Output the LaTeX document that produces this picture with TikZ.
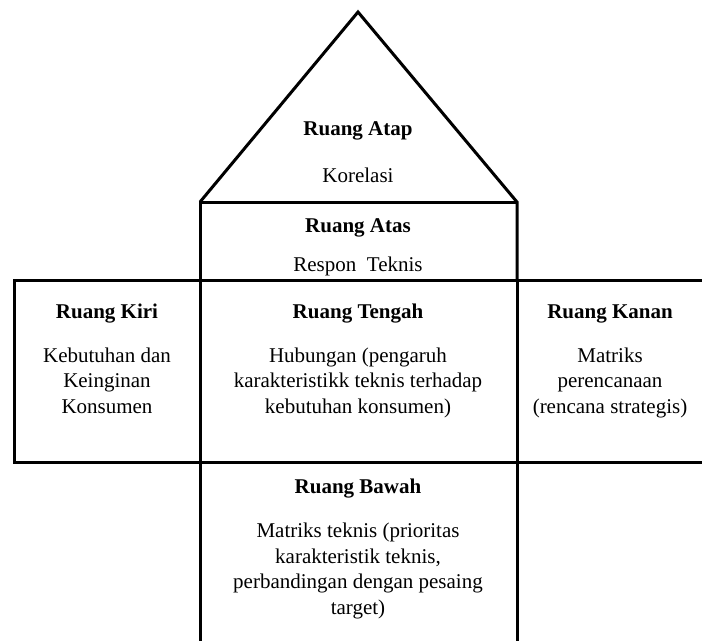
\documentclass[tikz,border=0pt]{standalone}
\usepackage{fontspec}
\setmainfont{Liberation Serif}
\begin{document}
\begin{tikzpicture}[x=1pt,y=-1pt,
  frame/.style={line width=3pt,line join=miter,black},
  head/.style={anchor=base,inner sep=0pt,font=\fontsize{21}{25}\selectfont\bfseries},
  body/.style={anchor=base,inner sep=0pt,align=center,font=\fontsize{21}{25.5}\selectfont}]
\useasboundingbox (0,0) rectangle (702,641);
% coordinates
\coordinate (apex) at (358,12);
\coordinate (rl) at (200,202);
\coordinate (rr) at (517,202);
\coordinate (ml) at (200,280);
\coordinate (mr) at (517,280);
\coordinate (bl) at (200,462);
\coordinate (br) at (517,462);
% roof and top box
\draw[frame] (rl) -- (apex) -- (rr) -- (mr);
\draw[frame] (rr) -- (rl) -- (ml);
% middle row
\draw[frame] (703,280) -- (14,280) -- (14,462) -- (703,462);
\draw[frame] (ml) -- (200,641);
\draw[frame] (mr) -- (517,641);
% texts (multi-line nodes: base = baseline of last line)
\node[head] (atap) at (358,135) {Ruang Atap};
\node[body] (korelasi) at (358,182) {Korelasi};
\node[head] (atas) at (358,232) {Ruang Atas};
\node[body] (respon) at (358,271) {Respon\ \ Teknis};
\node[head] (kiri) at (107,318) {Ruang Kiri};
\node[body] (kiritxt) at (107,413) {Kebutuhan dan\\Keinginan\\Konsumen};
\node[head] (tengah) at (358,318) {Ruang Tengah};
\node[body] (tengahtxt) at (358,413) {Hubungan (pengaruh\\karakteristikk teknis terhadap\\kebutuhan konsumen)};
\node[head] (kanan) at (610,318) {Ruang Kanan};
\node[body] (kanantxt) at (610,413) {Matriks\\perencanaan\\(rencana strategis)};
\node[head] (bawah) at (358,493) {Ruang Bawah};
\node[body] (bawahtxt) at (358,614) {Matriks teknis (prioritas\\karakteristik teknis,\\perbandingan dengan pesaing\\target)};
\end{tikzpicture}
\end{document}
